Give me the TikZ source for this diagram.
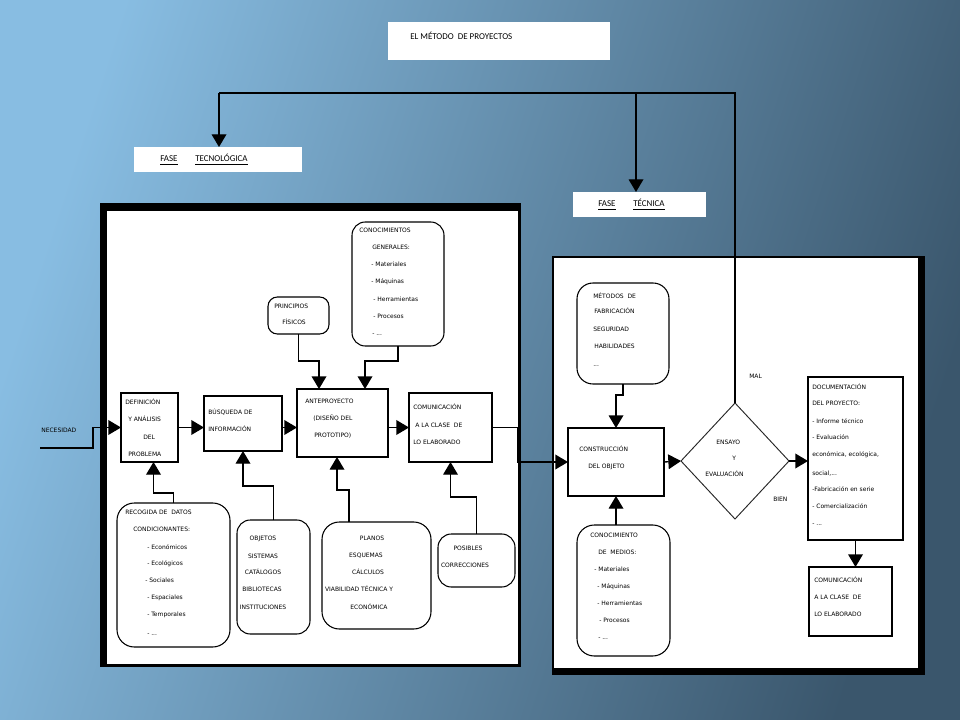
\documentclass[tikz,border=0pt]{standalone}
\usepackage{fontspec}
\newfontfamily\djv{DejaVu Sans}
\newfontfamily\crl{Carlito}
\usetikzlibrary{arrows.meta,shapes.geometric,fit,calc}
\definecolor{bgA}{RGB}{136,189,226}
\definecolor{bgM}{RGB}{88,130,162}
\definecolor{bgB}{RGB}{58,86,108}
\newcommand\txl[4]{\node[txt] (#1) at (#2,#3) {#4};}
\newcommand\txc[4]{\node[txtc] (#1) at (#2,#3) {#4};}
\begin{document}
\begin{tikzpicture}[x=0.75pt,y=-0.75pt,
  line/.style={line width=1pt, draw=black},
  arr/.style={line, -{Triangle[length=9.5pt,width=11pt]}},
  box/.style={draw=black, line width=0.8pt, fill=white, inner sep=0pt, outer sep=0pt},
  rbox/.style={box, rounded corners=10pt},
  wbox/.style={fill=white, inner sep=0pt, outer sep=0pt},
  txt/.style={anchor=base west, inner sep=0pt, font=\djv\fontsize{4.5}{5}\selectfont},
  txtc/.style={txt, anchor=base},
  ttl/.style={anchor=base west, inner sep=0pt, font=\crl\fontsize{6.7}{8}\selectfont}]
\useasboundingbox (0,0) rectangle (960,720);
\shade[top color=bgA, middle color=bgM, bottom color=bgB, shading angle=72] (0,0) rectangle (960,720);

% panels
\fill[black] (100,203) rectangle (521,667);
\fill[white] (107,211) rectangle (518,664);
\fill[black] (552,256) rectangle (925,675);
\fill[white] (554,258) rectangle (918,668);

% title and phase boxes
\node[wbox, fit={(388,22) (610,60)}] (title) {};
\node[ttl] (titlet) at (410,40) {EL MÉTODO\ \ DE PROYECTOS};
\node[wbox, fit={(134,147) (302,172)}] (fase1) {};
\node[ttl] (fase1a) at (160,162) {\underline{FASE}};
\node[ttl] (fase1b) at (195,162) {\underline{TECNOLÓGICA}};
\node[wbox, fit={(573,192) (706,217)}] (fase2) {};
\node[ttl] (fase2a) at (598,207) {\underline{FASE}};
\node[ttl] (fase2b) at (633,207) {\underline{TÉCNICA}};

% left panel boxes
\node[rbox, fit={(352,222) (444,346)}] (cono) {};
\txl{c1}{359}{233}{CONOCIMIENTOS}
\txl{c2}{372}{250}{GENERALES:}
\txl{c3}{371}{267}{- Materiales}
\txl{c4}{371}{284}{- Máquinas}
\txl{c5}{373}{301}{- Herramientas}
\txl{c6}{373}{318}{- Procesos}
\txl{c7}{372}{335}{- ...}

\node[rbox, rounded corners=7pt, fit={(268,297) (329,334)}] (prin) {};
\txl{p1}{274}{308}{PRINCIPIOS}
\txl{p2}{282}{325}{FÍSICOS}

\node[box, fit={(121,393) (178,462)}] (def) {};
\txl{d1}{125}{404}{DEFINICIÓN}
\txl{d2}{128}{421}{Y ANÁLISIS}
\txl{d3}{143}{439}{DEL}
\txl{d4}{128}{456}{PROBLEMA}

\node[box, fit={(204,396) (282,451)}] (bus) {};
\txl{b1}{208}{414}{BÚSQUEDA DE}
\txl{b2}{208}{431}{INFORMACIÓN}

\node[box, fit={(297,389) (388,457)}] (ante) {};
\txl{a1}{305}{403}{ANTEPROYECTO}
\txl{a2}{313}{420}{(DISEÑO DEL}
\txl{a3}{314}{437}{PROTOTIPO)}

\node[box, fit={(409,393) (492,462)}] (com) {};
\txl{m1}{413}{409}{COMUNICACIÓN}
\txl{m2}{415}{427}{A LA CLASE\ \ DE}
\txl{m3}{413}{444}{LO ELABORADO}

\node[rbox, rounded corners=13pt, fit={(117,503) (230,647)}] (rec) {};
\txl{r1}{125}{514}{RECOGIDA DE\ \ DATOS}
\txl{r2}{133}{531}{CONDICIONANTES:}
\txl{r3}{147}{549}{- Económicos}
\txl{r4}{147}{565}{- Ecológicos}
\txl{r5}{145}{582}{- Sociales}
\txl{r6}{147}{599}{- Espaciales}
\txl{r7}{147}{616}{- Temporales}
\txl{r8}{147}{635}{- ...}

\node[rbox, fit={(237,520) (310,634)}] (obj) {};
\txc{o1}{263}{540}{OBJETOS}
\txc{o2}{263}{558}{SISTEMAS}
\txc{o3}{263}{574}{CATÁLOGOS}
\txc{o4}{262}{591}{BIBLIOTECAS}
\txc{o5}{263}{609}{INSTITUCIONES}

\node[rbox, rounded corners=13pt, fit={(322,522) (431,629)}] (pla) {};
\txc{l1}{372}{540}{PLANOS}
\txc{l2}{366}{557}{ESQUEMAS}
\txc{l3}{368}{574}{CÁLCULOS}
\txc{l4}{359}{591}{VIABILIDAD TÉCNICA Y}
\txc{l5}{369}{609}{ECONÓMICA}

\node[rbox, fit={(438,534) (515,587)}] (pos) {};
\txc{s1}{468}{550}{POSIBLES}
\txc{s2}{465}{567}{CORRECCIONES}

\txl{nec}{41}{432}{NECESIDAD}
\coordinate (necS) at (40,448);

% right panel boxes
\node[rbox, rounded corners=12pt, fit={(577,283) (669,384)}] (met) {};
\txl{t1}{593}{298}{MÉTODOS\ \ DE}
\txl{t2}{594}{314}{FABRICACIÓN}
\txl{t3}{593}{331}{SEGURIDAD}
\txl{t4}{594}{348}{HABILIDADES}
\txl{t5}{593}{366}{...}

\node[box, fit={(568,428) (664,496)}] (cons) {};
\txl{k1}{579}{451}{CONSTRUCCIÓN}
\txl{k2}{588}{468}{DEL OBJETO}

\node[diamond, draw=black!85, line width=0.7pt, fill=white, minimum width=81pt,
  minimum height=87pt, inner sep=0pt, outer sep=0pt] (ens) at (735,461) {};
\txl{e1}{716}{444}{ENSAYO}
\txl{e2}{732}{460}{Y}
\txl{e3}{705}{476}{EVALUACIÓN}
\txl{mal}{749}{378}{MAL}
\txl{bien}{773}{501}{BIEN}

\node[box, fit={(808,377) (903,540)}] (doc) {};
\txl{u1}{812}{389}{DOCUMENTACIÓN}
\txl{u2}{812}{405}{DEL PROYECTO:}
\txl{u3}{812}{423}{- Informe técnico}
\txl{u4}{812}{439}{- Evaluación}
\txl{u5}{812}{456}{económica, ecológica,}
\txl{u6}{812}{475}{social,...}
\txl{u7}{812}{491}{-Fabricación en serie}
\txl{u8}{812}{508}{- Comercialización}
\txl{u9}{812}{525}{- ...}

\node[rbox, rounded corners=13pt, fit={(577,525) (670,656)}] (cmed) {};
\txl{n1}{590}{537}{CONOCIMIENTO}
\txl{n2}{598}{554}{DE\ \ MEDIOS:}
\txl{n3}{594}{571}{- Materiales}
\txl{n4}{597}{588}{- Máquinas}
\txl{n5}{597}{605}{- Herramientas}
\txl{n6}{599}{622}{- Procesos}
\txl{n7}{598}{639}{- ...}

\node[box, fit={(809,567) (892,636)}] (com2) {};
\txl{w1}{814}{582}{COMUNICACIÓN}
\txl{w2}{814}{599}{A LA CLASE\ \ DE}
\txl{w3}{814}{616}{LO ELABORADO}

% top connectors
\coordinate (tR) at (735,93);
\coordinate (tL) at (219,93);
\coordinate (tM) at (636,93);
\draw[line] (ens.north) -- (tR) -- (tL);
\draw[arr] (tL) -- (tL |- fase1.north);
\draw[arr] (tM) -- (tM |- fase2.north);

% left panel connectors
\draw[arr] (necS) -- ++(53,0) |- (def.west);
\draw[arr] (def.east) -- (bus.west |- def.east);
\draw[arr] (bus.east |- def.east) -- (ante.west |- def.east);
\draw[arr] (ante.east |- def.east) -- (com.west |- def.east);
\draw[arr] (com.east) -- ++(26,0) |- (cons.west);
\draw[arr] (rec.north) -- ++(0,-10) -| ($(def.south)+(4,0)$);
\draw[arr] (obj.north) -- ++(0,-34) -| (bus.south);
\draw[arr] ($(pla.north)+(-27.5,0)$) -- ++(0,-32) -| ($(ante.south)+(-5.5,0)$);
\draw[arr] (pos.north) -- ++(0,-37) -| (com.south);
\draw[arr] (prin.south) -- ++(0,27) -| ($(ante.north)+(-23.5,0)$);
\draw[arr] (cono.south) -- ++(0,15) -| ($(ante.north)+(22.5,0)$);

% right panel connectors
\draw[arr] (met.south) -- ++(0,11) -| (cons.north);
\draw[arr] (cons.south |- cmed.north) -- (cons.south);
\draw[arr] (cons.east) -- (ens.west);
\draw[arr] (ens.east) -- (doc.west |- ens.east);
\draw[arr] (doc.south) -- (doc.south |- com2.north);
\end{tikzpicture}
\end{document}
